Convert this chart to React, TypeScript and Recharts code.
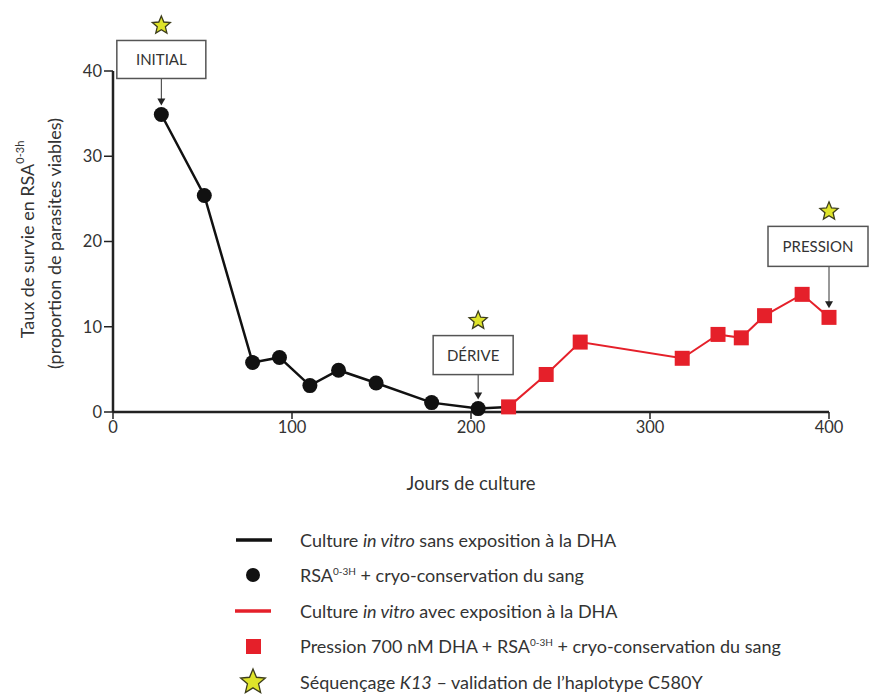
import { LineChart, Line, XAxis, YAxis, ReferenceDot, Label } from "recharts";

// Suivi de la survie RSA au cours de la culture (lecture de la figure)
const blackDays = [27, 51, 78, 93, 110, 126, 147, 178, 204];
const blackSurvival = [34.9, 25.4, 5.8, 6.4, 3.1, 4.9, 3.4, 1.1, 0.4];
const redDays = [221, 242, 261, 318, 338, 351, 364, 385, 400];
const redSurvival = [0.6, 4.4, 8.2, 6.3, 9.1, 8.7, 11.3, 13.8, 11.1];
const xTicks = [0, 100, 200, 300, 400];
const yTicks = [0, 10, 20, 30, 40];
const stepLabels = ["INITIAL", "DÉRIVE", "PRESSION"];
const legendLabels = [
  "sans exposition à la DHA",
  "+ cryo-conservation du sang",
  "avec exposition à la DHA",
  "Pression 700 nM DHA + RSA",
  "– validation de l’haplotype C580Y",
];

const FONT = "Lato, 'Open Sans', sans-serif";
const RED = "#e5202a";
const STAR_FILL = "#dfe42a";

// the black line runs on to the first red square
const blackData = [
  ...blackDays.map((day, i) => ({ day, value: blackSurvival[i], bridge: false })),
  { day: redDays[0], value: redSurvival[0], bridge: true },
];
const redData = redDays.map((day, i) => ({ day, value: redSurvival[i] }));

// annotated points: first and last black point, last red point
const steps = [
  { label: stepLabels[0], day: blackDays[0], value: blackSurvival[0] },
  { label: stepLabels[1], day: blackDays[blackDays.length - 1], value: blackSurvival[blackSurvival.length - 1] },
  { label: stepLabels[2], day: redDays[redDays.length - 1], value: redSurvival[redSurvival.length - 1] },
];

// box placement relative to the annotated point
const boxLayout: Record<string, { w: number; h: number; gap: number; dx: number }> = {
  INITIAL: { w: 89, h: 38, gap: 36, dx: 0 },
  DÉRIVE: { w: 80, h: 39, gap: 34, dx: -5 },
  PRESSION: { w: 100, h: 40, gap: 51, dx: -11 },
};

function starPoints(cx: number, cy: number, r: number) {
  const pts: string[] = [];
  for (let i = 0; i < 10; i++) {
    const rad = i % 2 === 0 ? r : r * 0.45;
    const a = -Math.PI / 2 + (i * Math.PI) / 5;
    pts.push(`${cx + rad * Math.cos(a)},${cy + rad * Math.sin(a)}`);
  }
  return pts.join(" ");
}

function Star({ cx, cy, r = 9 }: { cx: number; cy: number; r?: number }) {
  return <polygon points={starPoints(cx, cy, r)} fill={STAR_FILL} stroke="#3d3d1c" strokeWidth={1.3} />;
}

function StepMarker(props: any) {
  const { cx, cy, label } = props;
  const lay = boxLayout[label];
  const boxBottom = cy - lay.gap;
  const boxTop = boxBottom - lay.h;
  const tip = cy - 9;
  return (
    <g>
      <line x1={cx} y1={boxBottom} x2={cx} y2={tip - 6} stroke="#333" strokeWidth={1} />
      <polygon points={`${cx - 4},${tip - 7} ${cx + 4},${tip - 7} ${cx},${tip}`} fill="#222" />
      <rect
        x={cx + lay.dx - lay.w / 2}
        y={boxTop}
        width={lay.w}
        height={lay.h}
        fill="#fff"
        stroke="#555"
        strokeWidth={1.5}
      />
      <text
        x={cx + lay.dx}
        y={boxTop + lay.h / 2 + 5.5}
        textAnchor="middle"
        fontFamily={FONT}
        fontSize={15}
        fill="#333"
      >
        {label}
      </text>
      <Star cx={cx} cy={boxTop - 15} r={9.5} />
    </g>
  );
}

function BlackDot(props: any) {
  const { cx, cy, payload, index } = props;
  if (payload.bridge) return <g key={`b${index}`} />;
  return <circle key={`b${index}`} cx={cx} cy={cy} r={7.5} fill="#111" />;
}

function RedSquare(props: any) {
  const { cx, cy, index } = props;
  return <rect key={`r${index}`} x={cx - 7.5} y={cy - 7.5} width={15} height={15} fill={RED} />;
}

function YLabel(props: any) {
  const { viewBox } = props;
  const cy = viewBox.y + viewBox.height / 2;
  return (
    <g fontFamily={FONT} fontSize={18} fill="#333">
      <text transform={`translate(34, ${cy - 2}) rotate(-90)`} textAnchor="middle">
        Taux de survie en RSA
        <tspan fontSize={11} dy={-10}>0-3h</tspan>
      </text>
      <text transform={`translate(61, ${cy + 2}) rotate(-90)`} textAnchor="middle">
        (proportion de parasites viables)
      </text>
    </g>
  );
}

function LegendIcon({ kind }: { kind: number }) {
  return (
    <svg width={50} height={30} style={{ display: "block" }}>
      {kind === 0 && <line x1={4} y1={15} x2={40} y2={15} stroke="#111" strokeWidth={3.5} />}
      {kind === 1 && <circle cx={21} cy={15} r={7} fill="#111" />}
      {kind === 2 && <line x1={3} y1={15} x2={39} y2={15} stroke={RED} strokeWidth={3.5} />}
      {kind === 3 && <rect x={14} y={8} width={15} height={15} fill={RED} />}
      {kind === 4 && <Star cx={21} cy={15} r={13} />}
    </svg>
  );
}

function LegendText({ i }: { i: number }) {
  const sup = <sup style={{ fontSize: 10 }}>0-3H</sup>;
  if (i === 0) return <>Culture <i>in vitro</i> {legendLabels[0]}</>;
  if (i === 1) return <>RSA{sup} {legendLabels[1]}</>;
  if (i === 2) return <>Culture <i>in vitro</i> {legendLabels[2]}</>;
  if (i === 3) return <>{legendLabels[3]}{sup} + cryo-conservation du sang</>;
  return <>Séquençage <i>K13</i> {legendLabels[4]}</>;
}

export default function App() {
  return (
    <div style={{ position: "absolute", left: 0, top: 0, width: 870, height: 695, background: "#fff", overflow: "hidden" }}>
      <LineChart width={870} height={695} margin={{ top: 71, right: 41, bottom: 253, left: 0 }}>
        <XAxis
          dataKey="day"
          type="number"
          domain={[0, 400]}
          ticks={xTicks}
          axisLine={{ stroke: "#222", strokeWidth: 2.5 }}
          tickLine={{ stroke: "#222", strokeWidth: 1.5 }}
          tickSize={7}
          tick={{ fontSize: 16.5, fill: "#333", fontFamily: FONT }}
          height={30}
        >
          <Label
            value="Jours de culture"
            position="insideBottom"
            offset={-48}
            style={{ fontSize: 18.5, fill: "#333", fontFamily: FONT }}
          />
        </XAxis>
        <YAxis
          dataKey="value"
          type="number"
          domain={[0, 40]}
          ticks={yTicks}
          width={113}
          axisLine={{ stroke: "#222", strokeWidth: 2.5 }}
          tickLine={{ stroke: "#222", strokeWidth: 1.5 }}
          tickSize={9}
          tick={{ fontSize: 16.5, fill: "#333", fontFamily: FONT }}
          label={<YLabel />}
        />
        <Line
          data={blackData}
          dataKey="value"
          stroke="#111"
          strokeWidth={2.5}
          dot={<BlackDot />}
          activeDot={false}
          isAnimationActive={false}
        />
        <Line
          data={redData}
          dataKey="value"
          stroke={RED}
          strokeWidth={2}
          dot={<RedSquare />}
          activeDot={false}
          isAnimationActive={false}
        />
        {steps.map((s) => (
          <ReferenceDot
            key={s.label}
            x={s.day}
            y={s.value}
            ifOverflow="visible"
            shape={(p: any) => <StepMarker {...p} label={s.label} />}
          />
        ))}
      </LineChart>
      <div style={{ position: "absolute", left: 232, top: 522, fontFamily: FONT, fontSize: 18, color: "#333" }}>
        {legendLabels.map((_, i) => (
          <div key={i} style={{ display: "flex", alignItems: "center", height: 35.5 }}>
            <LegendIcon kind={i} />
            <span style={{ marginLeft: 18, whiteSpace: "nowrap" }}>
              <LegendText i={i} />
            </span>
          </div>
        ))}
      </div>
    </div>
  );
}
